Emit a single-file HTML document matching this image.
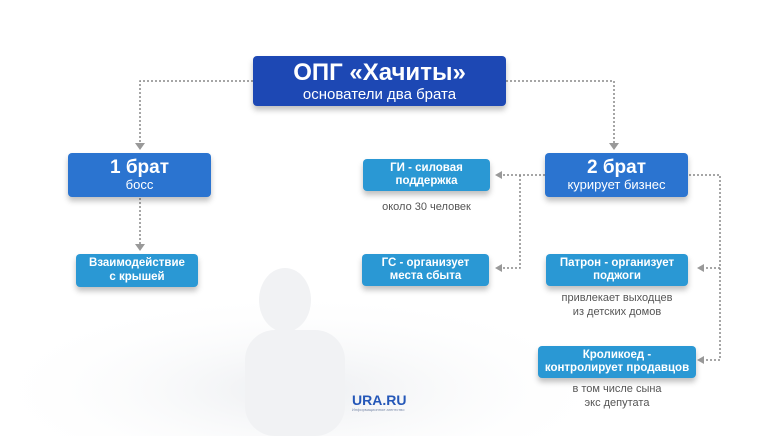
<!DOCTYPE html>
<html><head><meta charset="utf-8"><style>
html,body{margin:0;width:760px;height:436px;overflow:hidden}
body{background:#fff;font-family:"Liberation Sans",sans-serif;position:relative}
.b{position:absolute;color:#fff;text-align:center;border-radius:4px;box-shadow:0 4px 6px rgba(0,0,0,.25);display:flex;flex-direction:column;justify-content:center;line-height:1.15}
.d{background:#1d48b4}.m{background:#2b74d0}.l{background:#2a98d4;font-weight:bold;font-size:11.5px}
.t{position:absolute;color:#555;font-size:11px;text-align:center;line-height:1.25}
</style></head><body>
<svg width="760" height="436" style="position:absolute;left:0;top:0;overflow:hidden">
<defs><radialGradient id="g" cx="0.5" cy="0.5" r="0.5"><stop offset="0" stop-color="#eceef1"/><stop offset="1" stop-color="#fff" stop-opacity="0"/></radialGradient></defs>
<ellipse cx="300" cy="390" rx="320" ry="100" fill="url(#g)"/>
<ellipse cx="285" cy="300" rx="26" ry="32" fill="#f1f2f4"/>
<rect x="245" y="330" width="100" height="106" rx="30" fill="#f1f2f4"/>
<g stroke="#888" stroke-width="1.5" stroke-dasharray="2,2" fill="none">
<path d="M253 81H140V143"/><path d="M140 198V244"/>
<path d="M506 81H614V143"/>
<path d="M545 175H502"/><path d="M520 175V268H502"/>
<path d="M689 175H720V360H704"/><path d="M720 268H704"/>
</g>
<g fill="#999">
<path d="M135 143h10l-5 7z"/><path d="M135 244h10l-5 7z"/><path d="M609 143h10l-5 7z"/>
<path d="M502 171v8l-7-4z"/><path d="M502 264v8l-7-4z"/>
<path d="M704 264v8l-7-4z"/><path d="M704 356v8l-7-4z"/>
</g>
</svg>
<div class="b d" style="left:253px;top:56px;width:253px;height:50px"><div style="font-size:24px;font-weight:bold">ОПГ «Хачиты»</div><div style="font-size:15px">основатели два брата</div></div>
<div class="b m" style="left:68px;top:153px;width:143px;height:44px"><div style="font-size:19px;font-weight:bold">1 брат</div><div style="font-size:13px">босс</div></div>
<div class="b m" style="left:545px;top:153px;width:143px;height:44px"><div style="font-size:19px;font-weight:bold">2 брат</div><div style="font-size:13px">курирует бизнес</div></div>
<div class="b l" style="left:76px;top:254px;width:122px;height:33px">Взаимодействие<br>с крышей</div>
<div class="b l" style="left:363px;top:159px;width:127px;height:32px">ГИ - силовая<br>поддержка</div>
<div class="t" style="left:363px;top:201px;width:127px">около 30 человек</div>
<div class="b l" style="left:362px;top:254px;width:127px;height:32px">ГС - организует<br>места сбыта</div>
<div class="b l" style="left:546px;top:254px;width:142px;height:32px">Патрон - организует<br>поджоги</div>
<div class="t" style="left:546px;top:292px;width:142px">привлекает выходцев<br>из детских домов</div>
<div class="b l" style="left:538px;top:346px;width:158px;height:32px">Кроликоед -<br>контролирует продавцов</div>
<div class="t" style="left:538px;top:383px;width:158px">в том числе сына<br>экс депутата</div>
<div style="position:absolute;left:352px;top:392px;color:#2457b8;font-weight:bold;font-size:14px">URA.RU</div>
<div style="position:absolute;left:352px;top:407px;color:#7a8aa8;font-size:4px">Информационное агентство</div>
</body></html>
